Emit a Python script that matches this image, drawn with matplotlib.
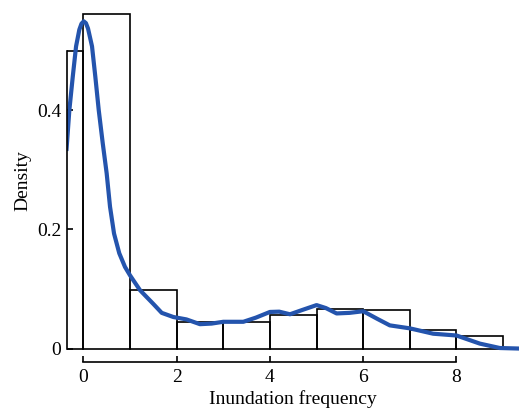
import matplotlib.pyplot as plt

# histogram (density) of inundation frequency, bins of width 1
bin_left = [-1, 0, 1, 2, 3, 4, 5, 6, 7, 8]
density = [0.499, 0.562, 0.098, 0.044, 0.045, 0.056, 0.066, 0.064, 0.031, 0.022]

# kernel density estimate
kde_x = [-0.36, -0.30, -0.227, -0.156, -0.086, -0.04, 0.008, 0.055, 0.10,
         0.186, 0.257, 0.33, 0.415, 0.50, 0.572, 0.658, 0.77, 0.893, 1.0,
         1.215, 1.5, 1.68, 1.93, 2.21, 2.5, 2.75, 3.0, 3.43, 3.7, 4.0, 4.2,
         4.43, 4.7, 5.0, 5.2, 5.43, 5.71, 6.0, 6.3, 6.57, 7.0, 7.5, 8.0, 8.5,
         8.93, 9.4]
kde_y = [0.335, 0.40, 0.456, 0.507, 0.535, 0.545, 0.549, 0.546, 0.537,
         0.507, 0.456, 0.40, 0.345, 0.294, 0.238, 0.193, 0.160, 0.137, 0.123,
         0.098, 0.075, 0.060, 0.053, 0.049, 0.041, 0.042, 0.045, 0.045, 0.052,
         0.0615, 0.062, 0.0576, 0.065, 0.073, 0.068, 0.059, 0.060, 0.0627,
         0.050, 0.039, 0.034, 0.025, 0.022, 0.0084, 0.001, 0.0]

xticks = [0, 2, 4, 6, 8]
yticks = [0, 0.2, 0.4]
ytick_labels = ["0", "0.2", "0.4"]

plt.rcParams['font.family'] = ['Liberation Serif', 'DejaVu Serif']
plt.rcParams['font.size'] = 14

fig = plt.figure(figsize=(5.19, 4.09), dpi=100)
ax = fig.add_axes([0.1285, 0.1418, 0.8715, 0.8338])

ax.bar(bin_left, density, width=1, align='edge', fill=False,
       edgecolor='black', linewidth=1.2)
ax.plot(kde_x, kde_y, color='#2454ad', linewidth=3, solid_joinstyle='round')

ax.set_xlim(-0.357, 9.34)
ax.set_ylim(-0.004, 0.568)

ax.spines['top'].set_visible(False)
ax.spines['right'].set_visible(False)
ax.spines['bottom'].set_position(('outward', 8))
ax.spines['bottom'].set_bounds(0, 8)
ax.spines['left'].set_bounds(0, 0.5)
for s in ('bottom', 'left'):
    ax.spines[s].set_linewidth(1.2)

ax.set_xticks(xticks)
ax.set_yticks(yticks)
ax.set_yticklabels(ytick_labels)
ax.tick_params(direction='in', length=4.5, width=1.2, pad=4)
ax.tick_params(axis='x', pad=5)

ax.set_xlabel('Inundation frequency', labelpad=3)
ax.set_ylabel('Density', labelpad=4)

fig.savefig('out.png', dpi=100)
